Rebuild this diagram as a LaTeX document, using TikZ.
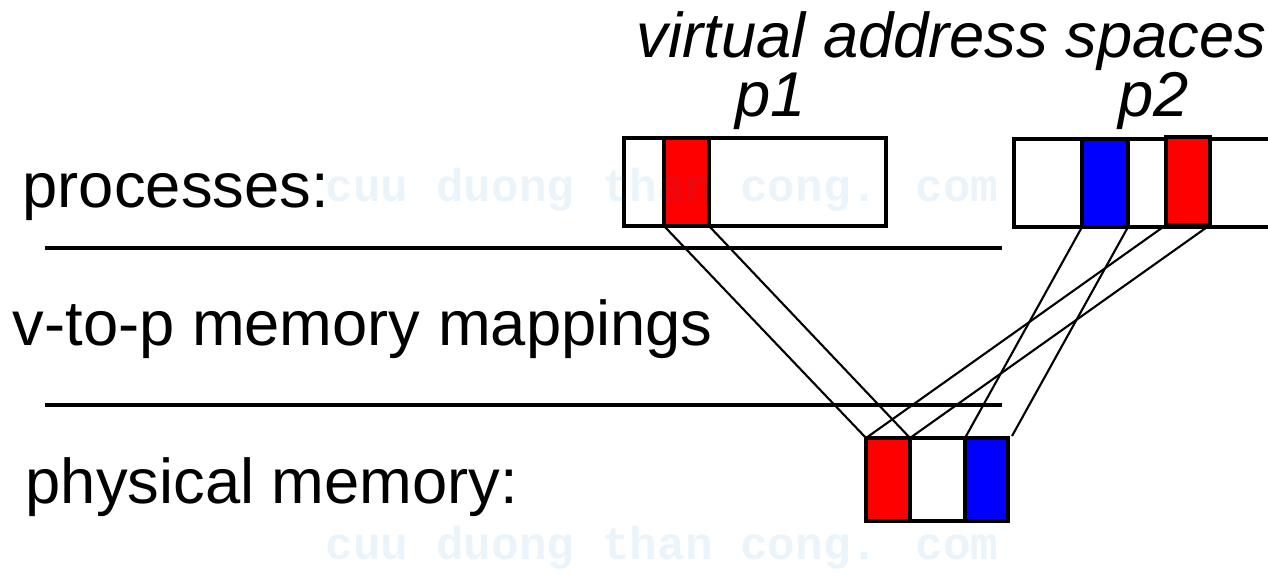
\documentclass[tikz,border=0pt]{standalone}
\usepackage{fontspec}
\setmainfont{Liberation Sans}
\newfontfamily\wmfont{Liberation Mono}
\definecolor{myred}{RGB}{255,0,0}
\definecolor{myblue}{RGB}{0,0,255}
\definecolor{wmblue}{RGB}{0,120,200}
\begin{document}
\begin{tikzpicture}[x=0.01cm,y=-0.01cm,
  lbl/.style={anchor=base west,inner sep=0pt,font=\fontsize{18}{20}\selectfont},
  ilbl/.style={lbl,font=\fontsize{18}{20}\selectfont\itshape},
  rule/.style={line width=1.2pt},
  box/.style={line width=0.9pt},
  conn/.style={line width=0.6pt},
  wm/.style={inner sep=0pt,text=wmblue,text opacity=0.08,font=\wmfont\bfseries\fontsize{13.1}{14}\selectfont}]
\useasboundingbox (0,0) rectangle (1268,574);
\clip (0,0) rectangle (1268,574);
% labels
\node[lbl] (proc) at (22,208) {processes:};
\node[lbl] (map) at (12,346) {v-to-p memory mappings};
\node[lbl] (phys) at (25,504) {physical memory:};
\node[ilbl,text depth=0pt] (title) at (636,58) {virtual address spaces};
\node[ilbl,text height=0.6em] (lp1) at (735,117) {p1};
\node[ilbl,text height=0.6em] (lp2) at (1118,117) {p2};
% rules
\draw[rule] (45,248) -- (1002,248);
\draw[rule] (45,405) -- (1002,405);
% p1 address space
\draw[box] (624,138) rectangle (886,226);
\draw[box,fill=myred] (664,138) rectangle (709,226);
\coordinate (p1rsw) at (664,226);
\coordinate (p1rse) at (709,226);
% p2 address space
\draw[box] (1280,139) -- (1014,139) -- (1014,227) -- (1280,227);
\draw[box,fill=myblue] (1082,139) rectangle (1128,227);
\draw[box,fill=myred] (1166,137) rectangle (1210,225);
\coordinate (p2bsw) at (1082,227);
\coordinate (p2bse) at (1128,227);
\coordinate (p2rsw) at (1166,225);
\coordinate (p2rse) at (1210,225);
% physical memory
\draw[box,fill=myred] (866,438) rectangle (910,521);
\draw[box] (910,438) rectangle (965,521);
\draw[box,fill=myblue] (965,438) rectangle (1008,521);
\coordinate (mrnw) at (866,438);
\coordinate (mrne) at (910,438);
\coordinate (mbnw) at (965,438);
\coordinate (mbne) at (1012,436);
% mappings
\draw[conn] (p1rsw) -- (mrnw);
\draw[conn] (p1rse) -- (mrne);
\draw[conn] (p2rsw) -- (mrnw);
\draw[conn] (p2rse) -- (mrne);
\draw[conn] (p2bsw) -- (mbnw);
\draw[conn] (p2bse) -- (mbne);
% watermark
\node[wm,anchor=west] (wm1) at (325,190) {cuu duong than cong. com};
\node[wm,anchor=west] (wm2) at (325,548) {cuu duong than cong. com};
\end{tikzpicture}
\end{document}
